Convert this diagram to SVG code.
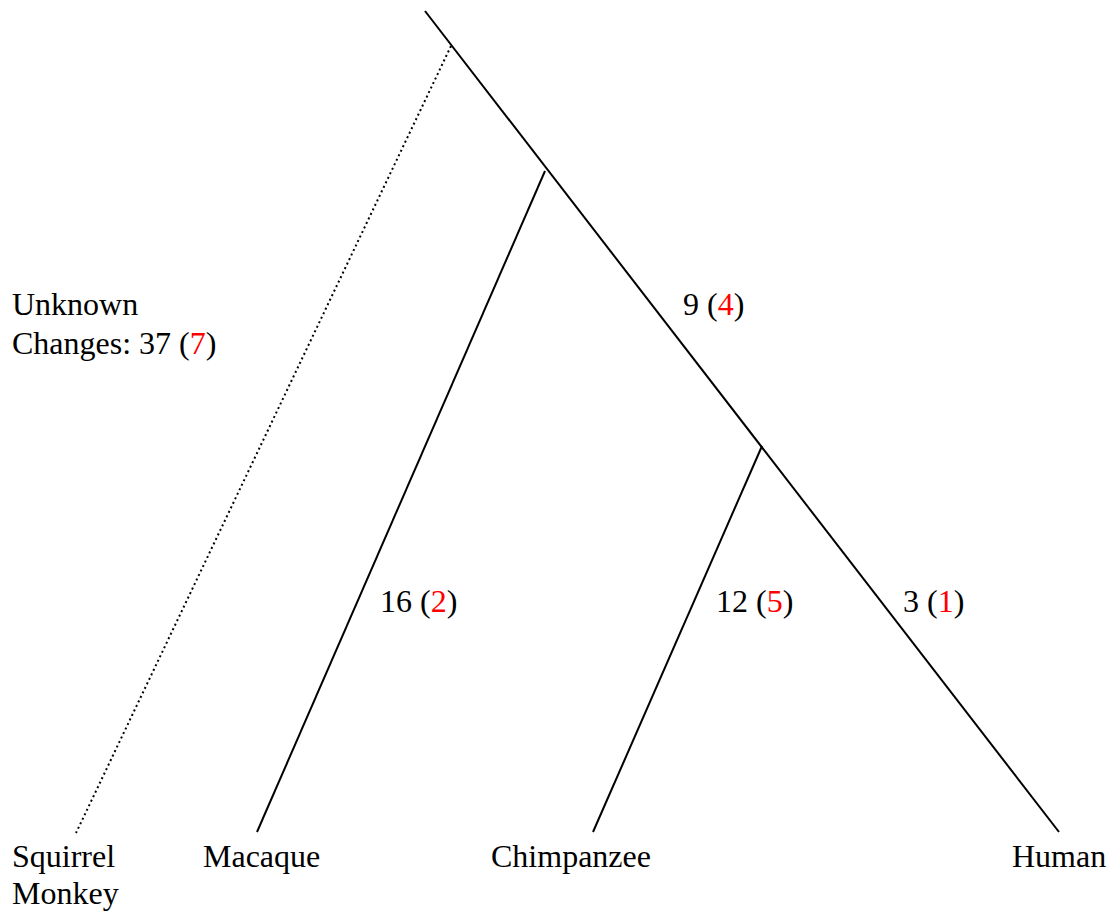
<svg xmlns="http://www.w3.org/2000/svg" width="1112" height="911" viewBox="0 0 1112 911" font-family="'Liberation Serif', 'Times New Roman', 'DejaVu Serif', serif" font-size="32">
<style>
text{font-family:'Liberation Serif','Times New Roman','DejaVu Serif',serif;font-size:32px;fill:#000}
.r{fill:#ff0000}
.b{stroke:#000;stroke-width:2;fill:none}
.d{stroke:#000;stroke-width:2;stroke-dasharray:2 3;fill:none}
</style>
<rect width="1112" height="911" fill="#fff"/>
<g id="connectors">
<line class="b" x1="425" y1="11" x2="1059" y2="832"/>
<line class="d" x1="451" y1="46" x2="76" y2="833"/>
<line class="b" x1="545" y1="171" x2="257" y2="832"/>
<line class="b" x1="762" y1="446" x2="593" y2="832"/>
</g>
<g id="label-unknown"><text x="12" y="315">Unknown</text><text x="12" y="354">Changes: 37 (<tspan class="r">7</tspan>)</text></g>
<g id="label-9"><text x="683" y="315">9 (<tspan class="r">4</tspan>)</text></g>
<g id="label-16"><text x="380" y="612">16 (<tspan class="r">2</tspan>)</text></g>
<g id="label-12"><text x="716" y="612">12 (<tspan class="r">5</tspan>)</text></g>
<g id="label-3"><text x="903" y="612">3 (<tspan class="r">1</tspan>)</text></g>
<g id="squirrel-monkey"><text x="12" y="867">Squirrel</text><text x="12" y="904">Monkey</text></g>
<g id="macaque"><text x="203" y="867">Macaque</text></g>
<g id="chimpanzee"><text x="491" y="867">Chimpanzee</text></g>
<g id="human"><text x="1012" y="867">Human</text></g>
</svg>
